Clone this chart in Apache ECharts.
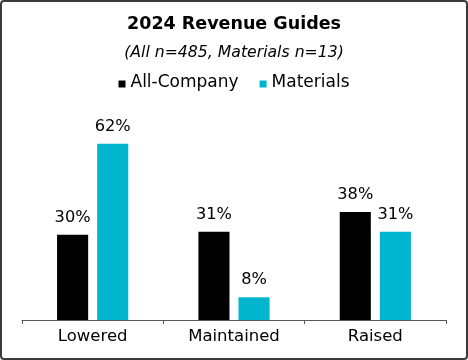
<!DOCTYPE html>
<html><head><meta charset="utf-8">
<script src="https://cdn.jsdelivr.net/npm/echarts@6/dist/echarts.min.js"></script>
<style>html,body{margin:0;padding:0;background:#fff}#c{width:468px;height:360px}</style>
</head><body><div id="c"></div>
<script>
const categories = ['Lowered', 'Maintained', 'Raised'];
const allCompany = [30, 31, 38];
const materials = [62, 8, 31];
const seriesNames = ['All-Company', 'Materials'];

const F = 'DejaVu Sans';
const chart = echarts.init(document.getElementById('c'), null, {renderer: 'canvas'});
chart.setOption({
  animation: false,
  textStyle: {fontFamily: F},
  graphic: [{type: 'rect', shape: {x: 1, y: 1, width: 466, height: 358, r: 3}, style: {fill: 'none', stroke: '#3a3a3a', lineWidth: 2}, z: 100}],
  title: [
    {text: '2024 Revenue Guides', left: 'center', top: 10, textStyle: {fontFamily: F, fontWeight: 'bold', fontSize: 17.5, color: '#000'}},
    {text: '(All n=485, Materials n=13)', left: 'center', top: 40, textStyle: {fontFamily: F, fontStyle: 'italic', fontWeight: 'normal', fontSize: 15.7, color: '#000'}}
  ],
  legend: {
    data: seriesNames, top: 69, left: 'center',
    icon: 'path://M0,0M0,3L7,3L7,10L0,10Z', itemWidth: 7, itemHeight: 10, itemGap: 21,
    textStyle: {fontFamily: F, fontSize: 17, color: '#000'}
  },
  grid: {left: 22, right: 22, top: 121, bottom: 40},
  xAxis: {
    type: 'category', data: categories,
    axisLine: {lineStyle: {color: '#595959', width: 1}},
    axisTick: {show: true, length: 4, lineStyle: {color: '#595959'}},
    axisLabel: {fontFamily: F, fontSize: 16.5, color: '#000', margin: 8}
  },
  yAxis: {type: 'value', min: 0, max: 70, show: false, splitLine: {show: false}},
  series: [
    {name: seriesNames[0], type: 'bar', data: allCompany, barWidth: '22%', barGap: '29%', itemStyle: {color: '#000'},
     label: {show: true, position: 'top', distance: 9, formatter: '{c}%', fontFamily: F, fontSize: 16.2, color: '#000'}},
    {name: seriesNames[1], type: 'bar', data: materials, barWidth: '22%', itemStyle: {color: '#00B5CE'},
     label: {show: true, position: 'top', distance: 9, formatter: '{c}%', fontFamily: F, fontSize: 16.2, color: '#000'}}
  ]
});
</script></body></html>
